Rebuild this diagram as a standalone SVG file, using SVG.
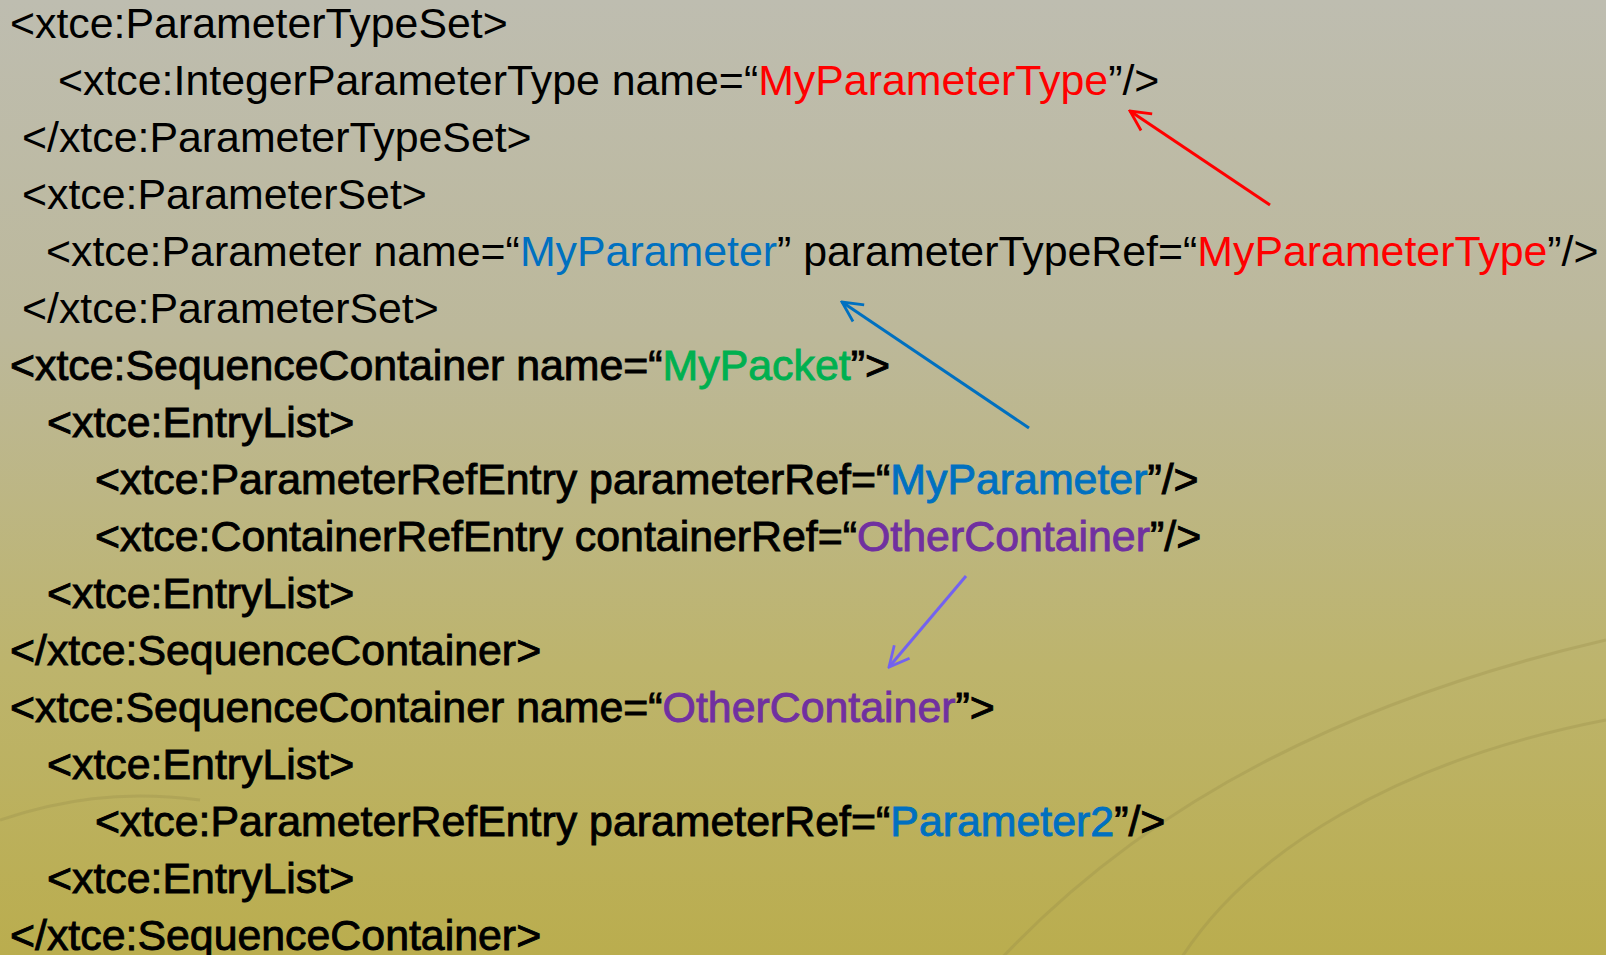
<svg xmlns="http://www.w3.org/2000/svg" width="1606" height="955" viewBox="0 0 1606 955">
<defs>
<linearGradient id="bg" x1="0" y1="0" x2="0" y2="1">
<stop offset="0" stop-color="#BEBDB0"/>
<stop offset="0.35" stop-color="#BCB89A"/>
<stop offset="0.7" stop-color="#BDB46C"/>
<stop offset="1" stop-color="#BAAD4E"/>
</linearGradient>
<marker id="mRed" viewBox="0 0 12 12" refX="11" refY="6" markerWidth="24" markerHeight="24" markerUnits="userSpaceOnUse" orient="auto"><path d="M1,1 L11,6 L1,11" fill="none" stroke="#FF0000" stroke-width="1.4"/></marker>
<marker id="mBlue" viewBox="0 0 12 12" refX="11" refY="6" markerWidth="24" markerHeight="24" markerUnits="userSpaceOnUse" orient="auto"><path d="M1,1 L11,6 L1,11" fill="none" stroke="#0070C0" stroke-width="1.4"/></marker>
<marker id="mPurple" viewBox="0 0 12 12" refX="11" refY="6" markerWidth="24" markerHeight="24" markerUnits="userSpaceOnUse" orient="auto"><path d="M1,1 L11,6 L1,11" fill="none" stroke="#7362F0" stroke-width="1.4"/></marker>
</defs>
<style>
text{font-family:"Liberation Sans",Arial,sans-serif;font-size:42.85px;fill:#000}
.b{stroke:#000;stroke-width:0.9px}
.red{fill:#FF0000}
.blue{fill:#0070C0}
.green{fill:#00B050}
.purple{fill:#7030A0}
.b .red{stroke:#FF0000}.b .blue{stroke:#0070C0}.b .green{stroke:#00B050}.b .purple{stroke:#7030A0}
.conn{fill:none;stroke-width:3}
</style>
<rect x="0" y="0" width="1606" height="955" fill="url(#bg)"/>
<g opacity="0.3" fill="none" stroke="#968B48" stroke-width="3">
<path d="M1000,960 C1150,800 1350,700 1606,640"/>
<path d="M1180,960 C1250,850 1400,760 1606,720"/>
<path d="M0,820 C60,800 120,790 200,800"/>
</g>
<g id="line1"><text x="10" y="37.5">&lt;xtce:ParameterTypeSet&gt;</text></g>
<g id="line2"><text x="58" y="94.5">&lt;xtce:IntegerParameterType name=“<tspan class="red">MyParameterType</tspan>”/&gt;</text></g>
<g id="line3"><text x="22" y="151.6">&lt;/xtce:ParameterTypeSet&gt;</text></g>
<g id="line4"><text x="22" y="208.6">&lt;xtce:ParameterSet&gt;</text></g>
<g id="line5"><text x="46" y="265.6">&lt;xtce:Parameter name=“<tspan class="blue">MyParameter</tspan>”  parameterTypeRef=“<tspan class="red">MyParameterType</tspan>”/&gt;</text></g>
<g id="line6"><text x="22" y="322.7">&lt;/xtce:ParameterSet&gt;</text></g>
<g id="line7"><text class="b" x="10" y="379.7">&lt;xtce:SequenceContainer name=“<tspan class="green">MyPacket</tspan>”&gt;</text></g>
<g id="line8"><text class="b" x="47" y="436.7">&lt;xtce:EntryList&gt;</text></g>
<g id="line9"><text class="b" x="95" y="493.7">&lt;xtce:ParameterRefEntry parameterRef=“<tspan class="blue">MyParameter</tspan>”/&gt;</text></g>
<g id="line10"><text class="b" x="95" y="550.8">&lt;xtce:ContainerRefEntry containerRef=“<tspan class="purple">OtherContainer</tspan>”/&gt;</text></g>
<g id="line11"><text class="b" x="47" y="607.8">&lt;xtce:EntryList&gt;</text></g>
<g id="line12"><text class="b" x="10" y="664.8">&lt;/xtce:SequenceContainer&gt;</text></g>
<g id="line13"><text class="b" x="10" y="721.9">&lt;xtce:SequenceContainer name=“<tspan class="purple">OtherContainer</tspan>”&gt;</text></g>
<g id="line14"><text class="b" x="47" y="778.9">&lt;xtce:EntryList&gt;</text></g>
<g id="line15"><text class="b" x="95" y="835.9">&lt;xtce:ParameterRefEntry parameterRef=“<tspan class="blue">Parameter2</tspan>”/&gt;</text></g>
<g id="line16"><text class="b" x="47" y="893">&lt;xtce:EntryList&gt;</text></g>
<g id="line17"><text class="b" x="10" y="950">&lt;/xtce:SequenceContainer&gt;</text></g>
<g id="connectors">
<line class="conn" x1="1270" y1="205" x2="1130" y2="111" stroke="#FF0000" marker-end="url(#mRed)"/>
<line class="conn" x1="1029" y1="428" x2="842" y2="302" stroke="#0070C0" marker-end="url(#mBlue)"/>
<line class="conn" x1="966" y1="576" x2="889" y2="667" stroke="#7362F0" stroke-width="3.5" marker-end="url(#mPurple)"/>
</g>
</svg>
